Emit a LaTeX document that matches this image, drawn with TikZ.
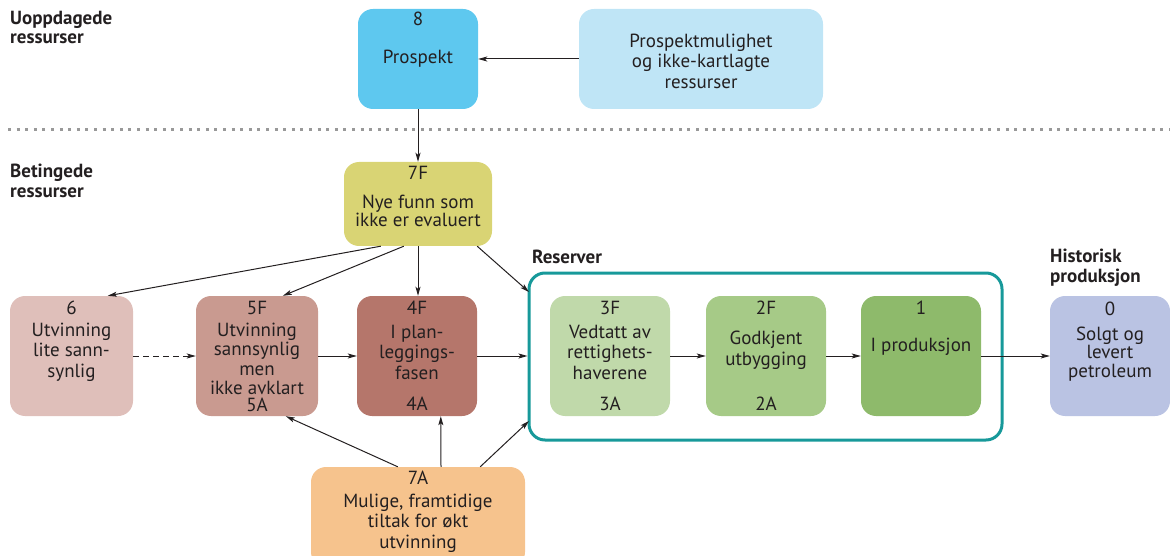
\documentclass[tikz,border=0pt]{standalone}
\usepackage{fontspec}
\setmainfont{PT Sans}
\usetikzlibrary{arrows.meta,calc}
\definecolor{c8}{HTML}{5EC8EF}
\definecolor{cpm}{HTML}{BFE5F6}
\definecolor{c7f}{HTML}{D9D474}
\definecolor{c6}{HTML}{DFBFBA}
\definecolor{c5}{HTML}{C99A90}
\definecolor{c4}{HTML}{B5766B}
\definecolor{c3}{HTML}{C0D9AA}
\definecolor{c2}{HTML}{A6CA87}
\definecolor{c1}{HTML}{8EBA6B}
\definecolor{c0}{HTML}{BAC3E3}
\definecolor{c7a}{HTML}{F6C38D}
\definecolor{teal}{HTML}{17999A}
\definecolor{ink}{HTML}{231F20}
\newcommand\fs{\fontsize{19}{20.5}\selectfont}
\newcommand\fsb{\fontsize{19}{19.5}\selectfont\bfseries}
\tikzset{
  box/.style={draw=none, rounded corners=15pt, minimum width=120pt, minimum height=120pt, inner sep=0pt},
  txt/.style={text=ink, font=\fs, align=center, inner sep=0pt},
  head/.style={text=ink, font=\fsb, align=left, inner sep=0pt, anchor=north west},
  arr/.style={draw=ink, line width=1pt, -{Stealth[length=9pt,width=5pt,inset=2pt]}},
}
\begin{document}
\begin{tikzpicture}[x=1pt,y=-1pt]
\useasboundingbox (0,0) rectangle (1170,556);
% dotted separator
\draw[draw=black!40, line width=3pt, dash pattern=on 3pt off 5.6pt] (8,130) -- (1170,130);
% headings
\node[head] (h1) at (10,11) {Uoppdagede\\ressurser};
\node[head] (h2) at (10,164) {Betingede\\ressurser};
\node[head] (h3) at (532,250) {Reserver};
\node[head] (h4) at (1050,249) {Historisk\\produksjon};
% boxes
\node[box, fill=c8, minimum width=120pt, minimum height=100pt] (n8) at (418,59) {};
\node[box, fill=cpm, minimum width=244pt, minimum height=100pt] (npm) at (701,59) {};
\node[box, fill=c7f, minimum width=148pt, minimum height=84pt] (n7f) at (418,204) {};
\node[box, fill=c6, minimum width=123pt] (n6) at (71.5,356) {};
\node[box, fill=c5, minimum width=122pt] (n5) at (257,356) {};
\node[box, fill=c4] (n4) at (417,356) {};
\node[draw=teal, line width=3pt, rounded corners=16pt, minimum width=473pt, minimum height=167pt, inner sep=0pt] (res) at (765.5,356.5) {};
\node[box, fill=c3] (n3) at (610,356) {};
\node[box, fill=c2] (n2) at (766,356) {};
\node[box, fill=c1] (n1) at (921,356) {};
\node[box, fill=c0] (n0) at (1110,356) {};
\node[box, fill=c7a, minimum width=214pt, minimum height=100pt] (n7a) at (418,517) {};
% texts
\node[txt] (t8a) at (418,19) {8};
\node[txt] (t8b) at (418,59) {Prospekt};
\node[txt] (tpm) at (701,61) {Prospektmulighet\\og ikke-kartlagte\\ressurser};
\node[txt] (t7fa) at (418,173) {7F};
\node[txt] (t7fb) at (418,211) {Nye funn som\\[-2pt]ikke er evaluert};
\node[txt] (t6a) at (71.5,308) {6};
\node[txt] (t6b) at (71.5,352) {Utvinning\\lite sann-\\synlig};
\node[txt] (t5a) at (257,308) {5F};
\node[txt] (t5b) at (257,359) {Utvinning\\[-1pt]sannsynlig\\[-1pt]men\\[-1pt]ikke avklart};
\node[txt] (t5c) at (257,405) {5A};
\node[txt] (t4a) at (417,308) {4F};
\node[txt] (t4b) at (417,352) {I plan-\\leggings-\\fasen};
\node[txt] (t4c) at (417,404) {4A};
\node[txt] (t3a) at (610,308) {3F};
\node[txt] (t3b) at (610,352) {Vedtatt av\\rettighets-\\haverene};
\node[txt] (t3c) at (610,404) {3A};
\node[txt] (t2a) at (766,308) {2F};
\node[txt] (t2b) at (766,350) {Godkjent\\utbygging};
\node[txt] (t2c) at (766,404) {2A};
\node[txt] (t1a) at (921,308) {1};
\node[txt] (t1b) at (921,347) {I produksjon};
\node[txt] (t0a) at (1110,309) {0};
\node[txt] (t0b) at (1110,354) {Solgt og\\[-2pt]levert\\[-2pt]petroleum};
\node[txt] (t7aa) at (418,478) {7A};
\node[txt] (t7ab) at (418,523) {Mulige, framtidige\\tiltak for økt\\utvinning};
% connector coordinates
\coordinate (r1) at (529,292);
\coordinate (r3) at (529,421);
% connectors
\draw[arr] (npm.west) -- (n8.east);
\draw[arr] (n8.south) -- (n7f.south |- n7f.north);
\draw[arr] ($(n7f.south west)+(37,0)$) -- ($(n6.north west)+(98,0)$);
\draw[arr] ($(n7f.south west)+(60,0)$) -- ($(n5.north west)+(87,0)$);
\draw[arr] (n7f.south) -- (n7f.south |- n4.north);
\draw[arr] ($(n7f.south east)+(-15,0)$) -- (r1);
\draw[arr, dashed, dash pattern=on 6pt off 4pt] (n6.east) -- (n5.west);
\draw[arr] (n5.east) -- (n4.west);
\draw[arr] (n4.east) -- (res.west |- n4.east);
\draw[arr] (n3.east) -- (n2.west);
\draw[arr] (n2.east) -- (n1.west);
\draw[arr] (n1.east) -- (n0.west);
\draw[arr] ($(n7a.north west)+(87,0)$) -- ($(n5.south west)+(90,0)$);
\draw[arr] ($(n7a.north)+(23,0)$) -- ($(n4.south west)+(84,0)$);
\draw[arr] ($(n7a.north east)+(-45,0)$) -- (r3);
\end{tikzpicture}
\end{document}
